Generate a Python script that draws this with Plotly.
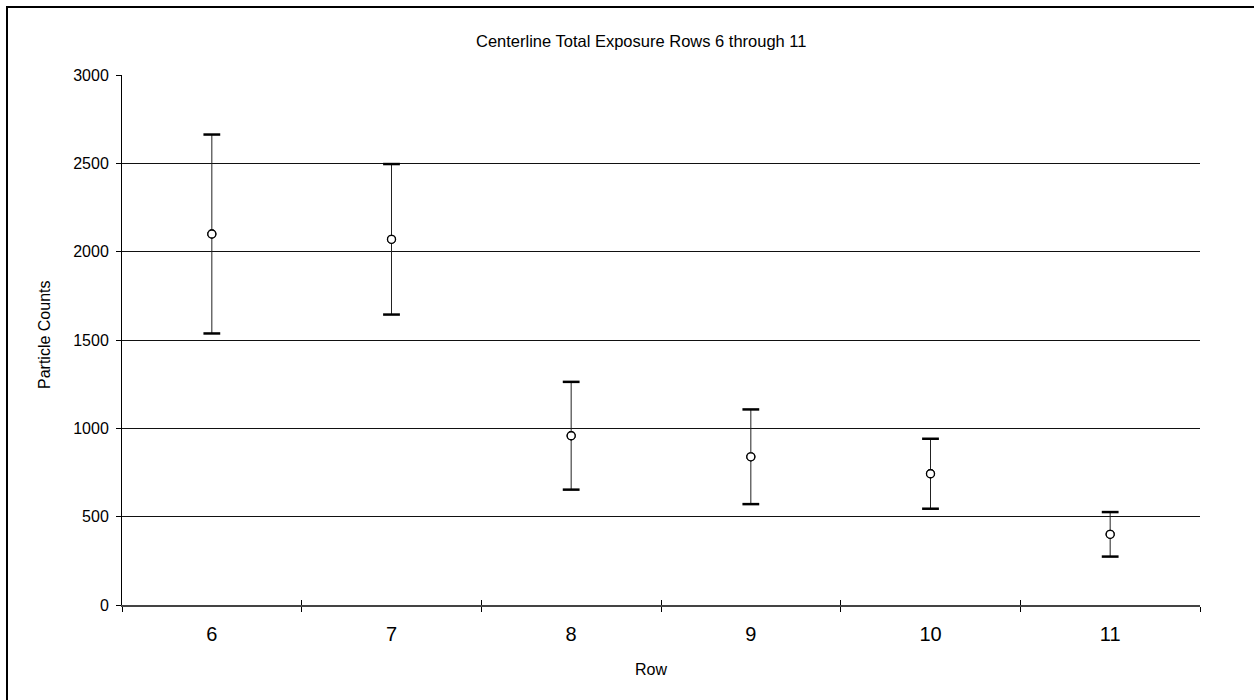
import plotly.graph_objects as go

rows = [6, 7, 8, 9, 10, 11]
means = [2100, 2070, 958, 839, 743, 400]
errs = [563, 426, 305, 268, 198, 126]
y_ticks = [0, 500, 1000, 1500, 2000, 2500, 3000]
boundaries = [5.5, 6.5, 7.5, 8.5, 9.5, 10.5, 11.5]

W, H = 1254, 700
L, R, T, B = 122, 54, 75, 95
FONT = "Arial, Liberation Sans, sans-serif"

upper = [m + e for m, e in zip(means, errs)]
lower = [m - e for m, e in zip(means, errs)]

fig = go.Figure()
# stems
fig.add_trace(go.Scatter(
    x=rows, y=means, mode="markers",
    marker=dict(size=8, color="white", line=dict(color="black", width=1.3)),
    error_y=dict(type="data", array=errs, visible=True, color="#222", thickness=1, width=0),
    showlegend=False, cliponaxis=False))
# caps
fig.add_trace(go.Scatter(
    x=rows + rows, y=upper + lower, mode="markers",
    marker=dict(symbol="line-ew", size=12, line=dict(color="black", width=2.5)),
    showlegend=False, cliponaxis=False))
# re-draw means on top of caps/stems
fig.add_trace(go.Scatter(
    x=rows, y=means, mode="markers",
    marker=dict(size=8, color="white", line=dict(color="black", width=1.3)),
    showlegend=False, cliponaxis=False))

# invisible trace to carry overlay axis for crossing ticks
fig.add_trace(go.Scatter(x=[rows[0]], y=[means[0]], xaxis="x2", mode="markers",
                         marker=dict(opacity=0), showlegend=False, hoverinfo="skip"))

fig.update_layout(
    width=W, height=H,
    margin=dict(l=L, r=R, t=T, b=B),
    paper_bgcolor="white", plot_bgcolor="white",
    font=dict(family=FONT, color="black"),
    xaxis=dict(
        range=[5.5, 11.5], tickmode="array", tickvals=rows, ticktext=[str(r) for r in rows],
        ticks="", showgrid=False, zeroline=False,
        showline=True, linecolor="#444", linewidth=1.5,
        tickfont=dict(size=20, family=FONT), ticklabelstandoff=10,
        minor=dict(tickmode="array", tickvals=boundaries, ticks="outside", ticklen=5,
                   tickcolor="black", tickwidth=1, showgrid=False),
    ),
    xaxis2=dict(
        overlaying="x", anchor="y", side="bottom", range=[5.5, 11.5],
        tickmode="array", tickvals=boundaries, ticks="inside", ticklen=5,
        tickcolor="black", tickwidth=1, showticklabels=False, showgrid=False,
        zeroline=False, showline=False,
    ),
    yaxis=dict(
        range=[0, 3000], tickmode="array", tickvals=y_ticks,
        ticks="outside", ticklen=5, tickcolor="black", tickwidth=1,
        showgrid=True, gridcolor="#111", gridwidth=1,
        zeroline=False, showline=True, linecolor="black", linewidth=1,
        tickfont=dict(size=16, family=FONT), ticklabelstandoff=4,
    ),
    shapes=[dict(type="rect", xref="paper", yref="paper",
                 x0=(7 - L) / (W - L - R), x1=(1275 - L) / (W - L - R),
                 y0=-(725 - (H - B)) / (H - T - B), y1=((H - B) - 7) / (H - T - B),
                 line=dict(color="black", width=2), fillcolor="rgba(0,0,0,0)", layer="above")],
    annotations=[
        dict(text="Centerline Total Exposure Rows 6 through 11", xref="paper", yref="paper",
             x=641 / W, y=1 - 41 / H, xanchor="center", yanchor="middle",
             showarrow=False, font=dict(size=16.5, family=FONT)),
        dict(text="Row", xref="paper", yref="paper",
             x=651 / W, y=1 - 669 / H, xanchor="center", yanchor="middle",
             showarrow=False, font=dict(size=16, family=FONT)),
        dict(text="Particle Counts", xref="paper", yref="paper",
             x=44 / W, y=1 - 335 / H, xanchor="center", yanchor="middle", textangle=-90,
             showarrow=False, font=dict(size=16, family=FONT)),
    ],
)
# annotations above use container-like coordinates; convert to paper coords
for a in fig.layout.annotations:
    px = a.x * W
    py = (1 - a.y) * H
    a.x = (px - L) / (W - L - R)
    a.y = ((H - B) - py) / (H - T - B)

fig.write_html("out.html")
